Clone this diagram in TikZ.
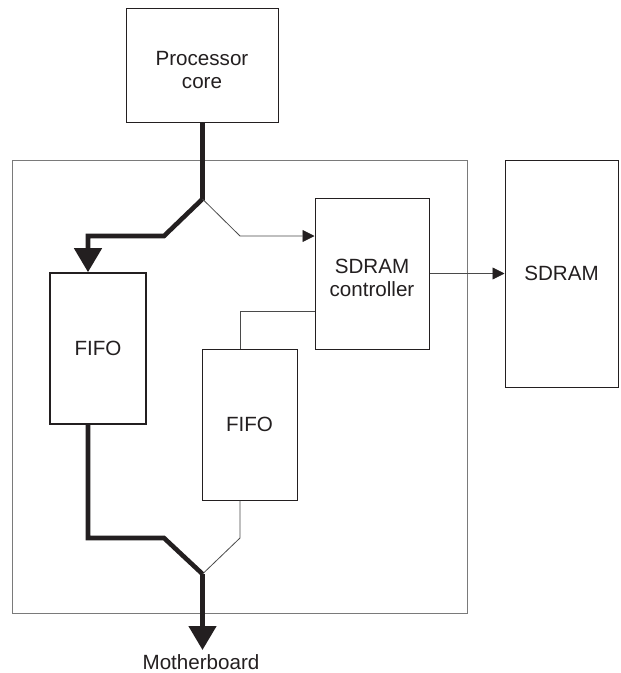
\documentclass[tikz,border=0pt]{standalone}
\usepackage{fontspec}
\setmainfont{Liberation Sans}
\usetikzlibrary{arrows.meta}
\definecolor{ink}{HTML}{231F20}
\definecolor{wire}{HTML}{4A4A4A}
\definecolor{frame}{HTML}{7A7A7A}
\tikzset{
  box/.style={draw=ink, line width=1pt, fill=white, inner sep=0pt},
  lbl/.style={text=ink, align=center, inner sep=0pt,
    font=\fontsize{20.6}{23}\selectfont},
  bus/.style={draw=ink, line width=4.6pt, miter limit=10},
  sig/.style={draw=wire, line width=0.8pt},
  bigtip/.style={-{Triangle[length=24pt,width=27pt]}},
  smalltip/.style={-{Triangle[length=12pt,width=12pt,color=ink]}},
}
\begin{document}
\begin{tikzpicture}[x=1pt,y=-1pt]
\useasboundingbox (0,0) rectangle (621,673);

% enclosing board
\node[draw=frame, line width=1pt, minimum width=455pt, minimum height=453pt, inner sep=0pt]
  (board) at (240,386.5) {};

% functional blocks
\node[box, minimum width=152pt, minimum height=114pt] (proc) at (202,65) {};
\node[lbl] (proctxt) at (202,70.5) {Processor\\core};

\node[box, minimum width=113pt, minimum height=227pt] (sdram) at (561.5,273.5) {};
\node[lbl] (sdramtxt) at (561.5,273.5) {SDRAM};

\node[box, minimum width=114pt, minimum height=151pt] (ctrl) at (372,273.5) {};
\node[lbl] (ctrltxt) at (372,278.3) {SDRAM\\controller};

\node[box, line width=1.6pt, minimum width=96pt, minimum height=151pt] (fifoL) at (98,348.5) {};
\node[lbl] (fifoLtxt) at (98,348.5) {FIFO};

\node[box, minimum width=95pt, minimum height=151pt] (fifoR) at (249.5,424.5) {};
\node[lbl] (fifoRtxt) at (249.5,424.5) {FIFO};

\node[lbl] (mb) at (201,662) {Motherboard};

% routing points
\coordinate (split) at (202.5,199);
\coordinate (lbend) at (164,236);
\coordinate (lturn) at (88,236);
\coordinate (rbend) at (240,236);
\coordinate (cturn) at (240,311);
\coordinate (fl) at (88,538);
\coordinate (flbend) at (164,538);
\coordinate (fr) at (240,538);
\coordinate (merge) at (202.5,574);
\coordinate (mbtip) at (202.5,650);

% processor bus, splitting to the FIFO and the controller
\draw[bus, bigtip] (proc.south -| split) -- (split) -- (lbend) -- (lturn) -- (lturn |- fifoL.north);
\draw[sig, smalltip] (split) -- (rbend) -- (rbend -| ctrl.west);

% controller to memory
\draw[sig, smalltip] (ctrl.east) -- (ctrl.east -| sdram.west);

% controller to second FIFO
\draw[sig] (cturn -| ctrl.west) -- (cturn) -- (cturn |- fifoR.north);

% FIFOs merging onto the motherboard bus
\draw[sig] (fr |- fifoR.south) -- (fr) -- (merge);
\draw[bus] (fl |- fifoL.south) -- (fl) -- (flbend) -- (merge);
\draw[bus, bigtip] (merge) -- (mbtip);
\end{tikzpicture}
\end{document}
